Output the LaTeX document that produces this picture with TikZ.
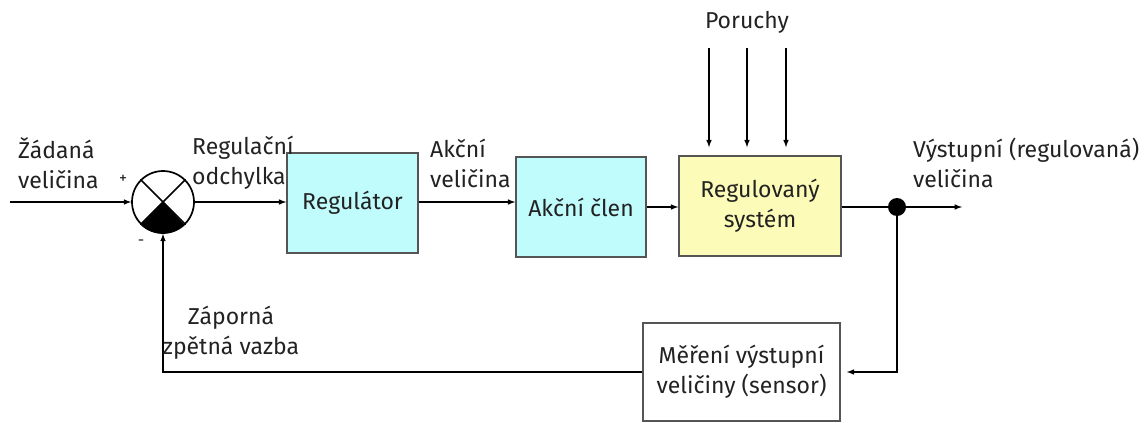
\documentclass[tikz,border=0pt]{standalone}
\usepackage{fontspec}
\setmainfont{Fira Sans}
\usetikzlibrary{calc}
\usetikzlibrary{positioning}
\definecolor{boxcyan}{HTML}{C0FCFC}
\definecolor{boxyellow}{HTML}{FCFCB8}
\definecolor{boxline}{HTML}{555555}
\definecolor{txt}{HTML}{222222}

\begin{document}
\begin{tikzpicture}[x=1pt,y=-1pt,>=latex,
    every node/.style={font=\fontsize{23}{30}\selectfont,text=txt},
    spoj/.style={line width=1.5pt},
    blok/.style={draw=boxline,line width=1.5pt,rectangle,align=center},
    lbl/.style={anchor=west,align=left,inner sep=0pt}]
    \useasboundingbox (0,0) rectangle (1144,423);
    % bloky
    \node[draw,line width=1.7pt,circle,minimum size=62pt,inner sep=0pt] (S) at (163,202) {};
    \node[blok,fill=boxcyan,minimum width=131pt,minimum height=100pt] (R) at (352.5,203) {Regulátor};
    \node[blok,fill=boxcyan,minimum width=130pt,minimum height=100pt] (A) at (581,207) {Akční člen};
    \node[blok,fill=boxyellow,minimum width=162pt,minimum height=100pt] (G) at (760,206) {Regulovaný\\systém};
    \node[blok,fill=white,minimum width=197pt,minimum height=98pt] (M) at (741.5,372) {Měření výstupní\\veličiny (sensor)};
    % soucetovy clen
    \draw[spoj] (S.north west) -- (S.south east);
    \draw[spoj] (S.north east) -- (S.south west);
    \fill (S.center) -- (S.south west) arc[start angle=225,end angle=315,radius=31pt] -- cycle;
    % vetveni
    \node[circle,fill=black,minimum size=18pt,inner sep=0pt] (B) at (897,207) {};
    \coordinate (in) at (10,202);
    \coordinate (out) at (962,207);
    \coordinate (p1) at (709,48);
    \coordinate (p2) at (747,48);
    \coordinate (p3) at (786,48);
    % spoje
    \draw[spoj,->] (in) -- (S.west);
    \draw[spoj,->] (S.east) -- (R.west |- S.east);
    \draw[spoj,->] (R.east |- 0,202) -- (A.west |- 0,202);
    \draw[spoj,->] (A.east) -- (G.west |- A.east);
    \draw[spoj] (G.east |- B) -- (B);
    \draw[spoj,->] (B) -- (out);
    \draw[spoj,->,shorten >=6pt] (B) |- (M.east);
    \draw[spoj,->] (M.west) -| (S.south);
    \foreach \p in {p1,p2,p3}
      \draw[spoj,->,shorten >=8pt] (\p) -- (\p |- G.north);
    % popisky
    \node (P) at (747,22) {Poruchy};
    \node[lbl] (w) at (18,163) {Žádaná\\veličina};
    \node[lbl] (e) at (192,163) {Regulační\\odchylka};
    \node[lbl] (u) at (430,163) {Akční\\veličina};
    \node[lbl] (y) at (913,163) {Výstupní (regulovaná)\\veličina};
    \node[align=center,inner sep=0pt] (f) at (231,333) {Záporná\\zpětná vazba};
    \node (plus) at (123,179) {\fontsize{16}{16}\selectfont +};
    \node (minus) at (141,243) {\fontsize{16}{16}\selectfont -};
\end{tikzpicture}
\end{document}
